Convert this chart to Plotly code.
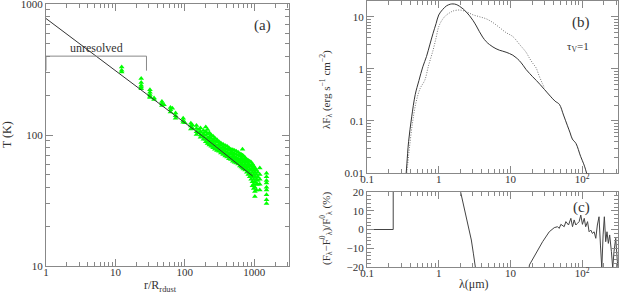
import plotly.graph_objects as go

W, H = 620, 294

# ---------------- panel (a) data ----------------
line_r = [1, 30, 200, 950]
line_T = [775, 202, 94, 48.5]

bracket_r = [1, 1, 28, 28]
bracket_T = [310, 400, 400, 310]

green_col_r = [12.3, 23.5, 31.4, 36, 46.7, 50, 62, 66, 73.5, 94.6, 100, 122, 128, 147, 160, 168,
               185, 200, 212, 225, 240, 255, 270, 290, 310, 330, 355, 380, 405, 430, 460, 490,
               520, 550, 585, 620, 650, 676, 700, 740, 780, 820, 860, 900, 940, 980, 1020, 1070,
               1120, 1200, 1500]
green_col_T = [
    [330, 312, 302],
    [270, 252, 240, 232, 225],
    [222, 212, 204, 198, 193],
    [192, 187],
    [180, 174, 168],
    [170],
    [162, 156, 150],
    [160],
    [147, 140, 134],
    [134, 129, 125],
    [124],
    [123, 117, 111],
    [119, 113],
    [118, 112, 106, 101],
    [110, 104],
    [113, 106, 100, 96],
    [108, 102, 97, 93],
    [115, 106, 99, 93, 89],
    [110, 102, 95, 89, 86],
    [104, 97, 91, 86, 84],
    [100, 94, 89, 84, 82],
    [98, 92, 87, 82, 80],
    [95, 90, 85, 81, 78],
    [92, 88, 83, 79, 76],
    [89, 85, 81, 77, 75],
    [87, 83, 79, 75, 73],
    [85, 81, 77, 73, 71],
    [83, 79, 75, 72, 69],
    [82, 78, 74, 70, 68],
    [80, 76, 72, 69, 66],
    [78, 74, 71, 67, 65],
    [77, 73, 69, 66, 63],
    [76, 72, 68, 65, 62],
    [75, 71, 67, 64, 61],
    [74, 70, 66, 63, 60],
    [72, 69, 65, 62, 58],
    [71, 67, 64, 60, 57],
    [78, 70, 66, 62, 59, 56],
    [69, 65, 62, 58, 55],
    [67, 63, 60, 57, 54],
    [65, 62, 58, 55, 52],
    [64, 60, 57, 53, 50],
    [63, 59, 55, 51, 48],
    [62, 58, 54, 50, 46],
    [60, 56, 52, 48, 44, 41],
    [58, 54, 50, 46, 42, 39],
    [56, 52, 48, 44, 40, 37, 34],
    [54, 50, 46, 42, 38],
    [52, 48, 45, 42],
    [56, 50, 46, 42, 38],
    [51, 48, 45, 43, 40, 38, 35, 32, 30],
]

# ---------------- panel (b) data ----------------
sed_lam = [0.35, 0.36, 0.38, 0.42, 0.47, 0.53, 0.6, 0.675, 0.75, 0.834, 0.92, 1.0, 1.13, 1.28,
           1.45, 1.58, 1.75, 1.96, 2.2, 2.43, 2.7, 3.0, 3.35, 3.7, 4.1, 4.6, 5.1, 5.7, 6.3, 7.0,
           7.8, 8.7, 9.7, 10.8, 12.0, 13.3, 15.0, 16.5, 18.5, 20.4, 23, 26, 30, 36, 42, 48, 55,
           62, 68, 73, 82, 95, 105, 112, 120]
sed_F = [0.009, 0.015, 0.04, 0.12, 0.32, 0.6, 1.1, 1.73, 2.9, 4.85, 7.5, 10.9, 13.8, 16.3,
         17.6, 17.8, 17.4, 16.0, 14.2, 12.4, 10.5, 8.6, 6.7, 5.2, 4.1, 3.35, 2.95, 2.65, 2.45, 2.3,
         2.2, 2.1, 1.98, 1.84, 1.65, 1.45, 1.18, 0.98, 0.82, 0.71, 0.6, 0.5, 0.4, 0.3, 0.24, 0.21, 0.13,
         0.083, 0.059, 0.045, 0.037, 0.021, 0.015, 0.0115, 0.008]

ref_lam = [0.355, 0.37, 0.39, 0.43, 0.48, 0.55, 0.64, 0.72, 0.834, 0.92, 1.0, 1.13, 1.28, 1.45,
           1.58, 1.96, 2.43, 3.0, 3.7, 4.6, 5.7, 7.0, 8.7, 10.8, 13.3, 16.5, 18.5, 20.4, 22.8, 25,
           28, 30]
ref_F = [0.009, 0.015, 0.03, 0.09, 0.22, 0.42, 0.61, 1.15, 2.3, 4.0, 6.5, 9.0, 10.9, 12.2,
         13.0, 13.6, 12.6, 11.0, 10.1, 9.2, 7.8, 6.3, 5.0, 4.2, 3.0, 2.1, 1.6, 1.3, 1.05, 0.75,
         0.52, 0.43]

# ---------------- panel (c) data ----------------
dev_lam = [0.1, 0.232, 0.2321, 1.8, 2.02, 2.2, 2.43, 2.65, 2.85, 3.05, 3.24, 3.6, 16, 18.4,
           22.7, 28.1, 34.8, 40.8, 45.4, 47.9, 50.5, 56.2, 59.3, 64.6, 69.6, 73.4, 77.4, 81.6,
           86.1, 90.8, 95.7, 101, 107, 112, 119, 125, 132, 139, 147, 155, 163, 172, 180, 188,
           196, 204, 213, 222, 232, 242, 256, 267, 278, 294, 310, 326]
dev_val = [0, 0, 60, 60, 20, 14, 6.8, 0, -5.6, -13, -20, -40, -40, -18.9,
           -12.7, -6.5, -1.2, 0.97, 1.5, 0.6, 2.75, 1.5, 4.2, 2.4, 5.95, 1.5, 5.1, 2.4,
           3.3, 4.2, 7.7, 2.75, 5.95, 1.5, 4.2, -1.2, -0.3, -2.1, -1.2, -4.7, 2.4, 6.8, -8.3, -20.7,
           -2.9, 6.8, -6.5, -1.2, -7.4, -2.9, -11.8, -20.7, -11.8, -4.7, -17.2, -24.3]

# tick definitions
a_xticks = [1, 10, 100, 1000]
a_xtext = ["1", "10", "100", "1000"]
a_yticks = [10, 100, 1000]
a_ytext = ["10", "100", "1000"]
b_xticks = [0.1, 1, 10, 100]
b_xtext = ["0.1", "1", "10", "10<sup>2</sup>"]
b_yticks = [0.01, 0.1, 1, 10]
b_ytext = ["0.01", "0.1", "1", "10"]
c_yticks = [-20, -10, 0, 10, 20]
c_ytext = ["\u221220", "\u221210", "0", "10", "20"]

# ---------------- figure ----------------
gx, gy = [], []
for r, ts in zip(green_col_r, green_col_T):
    for t in ts:
        gx.append(r)
        gy.append(t)

fig = go.Figure()
fig.add_trace(go.Scatter(x=gx, y=gy, mode="markers",
                         marker=dict(symbol="triangle-up", size=5, color="#00ff00", line=dict(width=0)),
                         xaxis="x", yaxis="y", showlegend=False))
fig.add_trace(go.Scatter(x=line_r, y=line_T, mode="lines", line=dict(color="#333", width=1),
                         xaxis="x", yaxis="y", showlegend=False))
fig.add_trace(go.Scatter(x=bracket_r, y=bracket_T, mode="lines", line=dict(color="#888", width=1),
                         xaxis="x", yaxis="y", showlegend=False))
fig.add_trace(go.Scatter(x=ref_lam, y=ref_F, mode="lines",
                         line=dict(color="#777", width=1, dash="1px,1.5px", shape="spline"),
                         xaxis="x2", yaxis="y2", showlegend=False))
fig.add_trace(go.Scatter(x=sed_lam, y=sed_F, mode="lines", line=dict(color="#333", width=1, shape="spline"),
                         xaxis="x2", yaxis="y2", showlegend=False))
fig.add_trace(go.Scatter(x=dev_lam, y=dev_val, mode="lines", line=dict(color="#444", width=1),
                         xaxis="x3", yaxis="y3", showlegend=False))

FONT = "Liberation Serif"
tickfont = dict(family=FONT, size=11, color="#333")


def logminor(lo, hi):
    return [m * 10 ** e for e in range(lo, hi) for m in range(2, 10)]


def ax(**kw):
    base = dict(showline=True, linecolor="#888", linewidth=1, mirror="ticks", ticks="inside",
                ticklen=7, tickcolor="#888", tickwidth=1, showgrid=False, zeroline=False,
                tickfont=tickfont, tickmode="array", automargin=False, ticklabeloverflow="allow")
    base.update(kw)
    return base


def px(x):
    return x / W


def py(y):
    return 1 - y / H


XSTAND = -4
YSTAND = 0

fig.update_layout(
    width=W, height=H, margin=dict(l=0, r=0, t=0, b=0, autoexpand=False),
    paper_bgcolor="white", plot_bgcolor="white",
    xaxis=ax(type="log", range=[0, 3.5], domain=[px(46), px(289)], anchor="y",
             tickvals=a_xticks, ticktext=a_xtext, ticklabelstandoff=XSTAND,
             minor=dict(ticks="inside", ticklen=4, tickcolor="#888", tickmode="array", tickvals=logminor(0, 4))),
    yaxis=ax(type="log", range=[1, 3], domain=[py(266), py(4)], anchor="x",
             tickvals=a_yticks, ticktext=a_ytext, ticklabelstandoff=YSTAND,
             minor=dict(ticks="inside", ticklen=4, tickcolor="#888", tickmode="array", tickvals=logminor(1, 3))),
    xaxis2=ax(type="log", range=[-1, 2.5], domain=[px(367), px(618)], anchor="y2",
              tickvals=b_xticks, ticktext=b_xtext, ticklabelstandoff=XSTAND,
              minor=dict(ticks="inside", ticklen=4, tickcolor="#888", tickmode="array", tickvals=logminor(-1, 3))),
    yaxis2=ax(type="log", range=[-2, 1.301], domain=[py(173), py(1.3)], anchor="x2",
              tickvals=b_yticks, ticktext=b_ytext, ticklabelstandoff=YSTAND,
              minor=dict(ticks="inside", ticklen=4, tickcolor="#888", tickmode="array", tickvals=logminor(-2, 2))),
    xaxis3=ax(type="log", range=[-1, 2.5], domain=[px(367), px(618)], anchor="y3",
              tickvals=b_xticks, ticktext=b_xtext, ticklabelstandoff=XSTAND,
              minor=dict(ticks="inside", ticklen=4, tickcolor="#888", tickmode="array", tickvals=logminor(-1, 3))),
    yaxis3=ax(type="linear", range=[-20, 20], domain=[py(267), py(192)], anchor="x3",
              tickvals=c_yticks, ticktext=c_ytext, ticklabelstandoff=YSTAND,
              minor=dict(ticks="inside", ticklen=4, tickcolor="#888", tickmode="array",
                         tickvals=[v for v in range(-18, 20, 2) if v % 10 != 0])),
)

ann_font = dict(family=FONT, size=12, color="#333")
annots = [
    dict(text="T (K)", x=px(7), y=py(135), textangle=-90),
    dict(text="r/R<sub>rdust</sub>", x=px(160), y=py(286)),
    dict(text="unresolved", x=px(96), y=py(48)),
    dict(text="(a)", x=px(262), y=py(26), size=15),
    dict(text="(b)", x=px(581), y=py(23), size=15),
    dict(text="\u03c4<sub>V</sub>=1", x=px(578), y=py(47), size=11),
    dict(text="(c)", x=px(581), y=py(207), size=15),
    dict(text="\u03bbF<sub>\u03bb</sub> (erg s<sup>\u22121</sup> cm<sup>\u22122</sup>)", x=px(326), y=py(90), textangle=-90, size=11),
    dict(text="(F<sub>\u03bb</sub>\u2212F<sup>0</sup><sub>\u03bb</sub>)/F<sup>0</sup><sub>\u03bb</sub> (%)", x=px(326), y=py(229), textangle=-90, size=11),
    dict(text="\u03bb(\u03bcm)", x=px(474), y=py(284)),
]
for a in annots:
    f = dict(ann_font)
    if "size" in a:
        f["size"] = a.pop("size")
    fig.add_annotation(xref="paper", yref="paper", showarrow=False, font=f,
                       xanchor="center", yanchor="middle", **a)

fig.write_html("out.html", config={"displayModeBar": False},
               post_script="document.body.style.margin='0';document.body.style.overflow='hidden';")
